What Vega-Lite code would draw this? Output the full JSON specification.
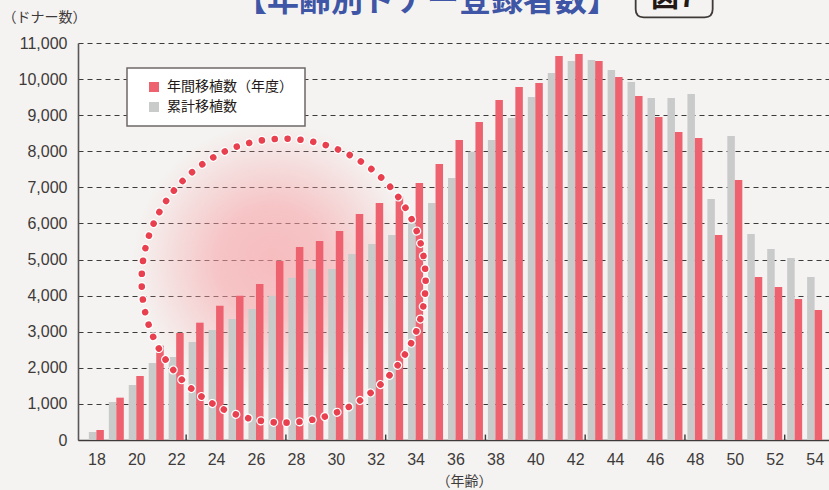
{
  "$schema": "https://vega.github.io/schema/vega-lite/v6.json",
  "width": 751,
  "height": 397,
  "autosize": {"type": "none"},
  "padding": {"left": 78, "top": 43, "right": 0, "bottom": 50},
  "background": "#f4f3f1",
  "config": {
    "view": {"stroke": null},
    "axis": {"labelFont": "Liberation Sans", "labelFontSize": 16, "labelColor": "#3e3a39", "titleFont": "Noto Sans CJK JP", "titleFontWeight": "normal", "titleColor": "#3e3a39"},
    "axisY": {"format": ",d", "tickCount": 30},
    "axisX": {"format": "d", "tickCount": 30}
  },
  "data": {
    "values": [
      {"age": 18, "cumulative": 222, "annual": 277},
      {"age": 19, "cumulative": 1053, "annual": 1173},
      {"age": 20, "cumulative": 1524, "annual": 1773},
      {"age": 21, "cumulative": 2134, "annual": 2615},
      {"age": 22, "cumulative": 2300, "annual": 2965},
      {"age": 23, "cumulative": 2716, "annual": 3251},
      {"age": 24, "cumulative": 3048, "annual": 3722},
      {"age": 25, "cumulative": 3353, "annual": 4000},
      {"age": 26, "cumulative": 3630, "annual": 4323},
      {"age": 27, "cumulative": 4000, "annual": 4960},
      {"age": 28, "cumulative": 4498, "annual": 5348},
      {"age": 29, "cumulative": 4738, "annual": 5514},
      {"age": 30, "cumulative": 4738, "annual": 5791},
      {"age": 31, "cumulative": 5154, "annual": 6262},
      {"age": 32, "cumulative": 5431, "annual": 6567},
      {"age": 33, "cumulative": 5681, "annual": 6750},
      {"age": 34, "cumulative": 6068, "annual": 7118},
      {"age": 35, "cumulative": 6567, "annual": 7648},
      {"age": 36, "cumulative": 7260, "annual": 8313},
      {"age": 37, "cumulative": 7990, "annual": 8812},
      {"age": 38, "cumulative": 8313, "annual": 9421},
      {"age": 39, "cumulative": 8923, "annual": 9782},
      {"age": 40, "cumulative": 9505, "annual": 9893},
      {"age": 41, "cumulative": 10170, "annual": 10641},
      {"age": 42, "cumulative": 10502, "annual": 10696},
      {"age": 43, "cumulative": 10530, "annual": 10502},
      {"age": 44, "cumulative": 10253, "annual": 10059},
      {"age": 45, "cumulative": 9920, "annual": 9532},
      {"age": 46, "cumulative": 9477, "annual": 8950},
      {"age": 47, "cumulative": 9477, "annual": 8535},
      {"age": 48, "cumulative": 9588, "annual": 8369},
      {"age": 49, "cumulative": 6678, "annual": 5681},
      {"age": 50, "cumulative": 8424, "annual": 7205},
      {"age": 51, "cumulative": 5708, "annual": 4517},
      {"age": 52, "cumulative": 5293, "annual": 4240},
      {"age": 53, "cumulative": 5043, "annual": 3907},
      {"age": 54, "cumulative": 4517, "annual": 3602}
    ]
  },
  "layer": [
    {
      "data": {"values": [{}]},
      "mark": {
        "type": "point", "shape": "circle", "size": 78400, "filled": true, "strokeWidth": 0, "opacity": 1,
        "fill": {"gradient": "radial", "x1": 0.5, "y1": 0.5, "r1": 0, "x2": 0.5, "y2": 0.5, "r2": 0.5,
          "stops": [
            {"offset": 0, "color": "rgba(248,155,160,0.62)"},
            {"offset": 0.4, "color": "rgba(248,158,163,0.55)"},
            {"offset": 0.72, "color": "rgba(248,166,170,0.28)"},
            {"offset": 1, "color": "rgba(248,175,178,0)"}
          ]}
      },
      "encoding": {
        "x": {"datum": 26.83, "type": "quantitative",
          "scale": {"domain": [17.33, 54.47], "nice": false, "zero": false},
          "axis": {"values": [18,20,22,24,26,28,30,32,34,36,38,40,42,44,46,48,50,52,54], "format": "d", "tickCount": 30, "grid": false, "ticks": false, "tickSize": 0, "labelPadding": 11, "labelFlush": false, "labelOverlap": false, "domainColor": "#3e3a39", "domainWidth": 1.6,
            "title": "（年齢）", "titleFontSize": 14, "titleX": 386, "titleY": 41.5, "titleAlign": "center", "titleBaseline": "middle"}},
        "y": {"datum": 4930, "type": "quantitative",
          "scale": {"domain": [0, 11000], "nice": false},
          "axis": {"values": [0,1000,2000,3000,4000,5000,6000,7000,8000,9000,10000,11000], "format": ",d", "tickCount": 30, "grid": true, "gridDash": [5, 4], "gridColor": "#3e3a39", "gridWidth": 1, "ticks": false, "tickSize": 0, "labelPadding": 11, "labelOverlap": false, "domainColor": "#595757", "domainWidth": 1.6,
            "title": "（ドナー数）", "titleFontSize": 14, "titleAngle": 0, "titleX": -76, "titleY": -25.5, "titleAlign": "left", "titleBaseline": "middle"}}
      }
    },
    {
      "mark": {"type": "bar", "orient": "vertical", "size": 7.5, "xOffset": -3.75},
      "encoding": {
        "x": {"field": "age", "type": "quantitative"},
        "y": {"field": "cumulative", "type": "quantitative"},
        "color": {"datum": "累計移植数", "type": "nominal",
          "scale": {"domain": ["年間移植数（年度）", "累計移植数"], "range": ["#ee6270", "#c9caca"]},
          "legend": {"title": null, "orient": "none", "legendX": 49, "legendY": 25, "direction": "vertical",
            "fillColor": "#ffffff", "strokeColor": "#6e6868", "padding": 12, "cornerRadius": 0,
            "symbolType": "square", "symbolSize": 100, "symbolStrokeWidth": 0, "symbolOffset": 8, "labelOffset": 6, "rowPadding": 6,
            "labelFont": "Noto Sans CJK JP", "labelFontSize": 14, "labelColor": "#231815", "labelLimit": 300,
            "encode": {"legend": {"update": {"strokeWidth": {"value": 1.5}}}}}}
      }
    },
    {
      "mark": {"type": "bar", "orient": "vertical", "size": 7.5, "xOffset": 3.75},
      "encoding": {
        "x": {"field": "age", "type": "quantitative"},
        "y": {"field": "annual", "type": "quantitative"},
        "color": {"datum": "年間移植数（年度）", "type": "nominal"}
      }
    },
    {
      "data": {"values": [{"tick": 22.5}, {"tick": 27.5}, {"tick": 32.5}, {"tick": 37.5}, {"tick": 42.5}, {"tick": 47.5}, {"tick": 52.5}]},
      "mark": {"type": "rule", "color": "#3e3a39", "strokeWidth": 1.4},
      "encoding": {
        "x": {"field": "tick", "type": "quantitative"},
        "y": {"datum": 0, "type": "quantitative"},
        "y2": {"datum": 150}
      }
    },
    {
      "data": {"values": [{}]},
      "mark": {"type": "point", "shape": "circle", "size": 80656, "filled": false, "color": "#ffffff", "strokeWidth": 9.2, "strokeDash": [0.01, 12.93], "strokeCap": "round", "opacity": 1},
      "encoding": {
        "x": {"datum": 27.386, "type": "quantitative"},
        "y": {"datum": 4414, "type": "quantitative"}
      }
    },
    {
      "data": {"values": [{}]},
      "mark": {"type": "point", "shape": "circle", "size": 80656, "filled": false, "color": "#e8404f", "strokeWidth": 6.6, "strokeDash": [0.01, 12.93], "strokeCap": "round", "opacity": 1},
      "encoding": {
        "x": {"datum": 27.386, "type": "quantitative"},
        "y": {"datum": 4414, "type": "quantitative"}
      }
    },
    {
      "data": {"values": [{"title": "【年齢別ドナー登録者数】"}]},
      "mark": {"type": "text", "font": "Noto Sans CJK JP", "fontWeight": "bold", "fontSize": 32, "color": "#3f55a5", "align": "center", "baseline": "alphabetic"},
      "encoding": {
        "text": {"field": "title"},
        "x": {"datum": 34.57, "type": "quantitative"},
        "y": {"datum": 11875, "type": "quantitative"}
      }
    },
    {
      "data": {"values": [{}]},
      "mark": {"type": "point", "shape": "M-0.7625,-0.441H0.7625Q0.9625,-0.441 0.9625,-0.241V0.241Q0.9625,0.441 0.7625,0.441H-0.7625Q-0.9625,0.441 -0.9625,0.241V-0.241Q-0.9625,-0.441 -0.7625,-0.441Z", "size": 6400, "filled": false, "color": "#3e3a39", "strokeWidth": 1.8, "opacity": 1},
      "encoding": {
        "x": {"datum": 46.96, "type": "quantitative"},
        "y": {"datum": 12201, "type": "quantitative"}
      }
    },
    {
      "data": {"values": [{"label": "図7"}]},
      "mark": {"type": "text", "font": "Noto Sans CJK JP", "fontWeight": "bold", "fontSize": 28, "color": "#231815", "align": "center", "baseline": "alphabetic"},
      "encoding": {
        "text": {"field": "label"},
        "x": {"datum": 46.91, "type": "quantitative"},
        "y": {"datum": 12008, "type": "quantitative"}
      }
    }
  ]
}
